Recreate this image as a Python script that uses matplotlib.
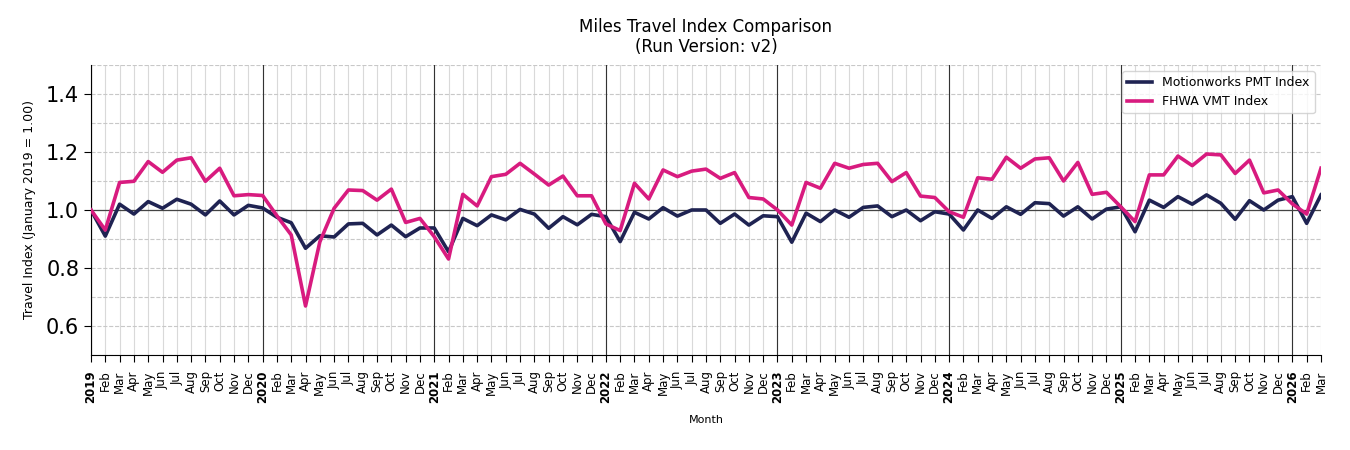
import matplotlib
matplotlib.use('Agg')
import matplotlib.pyplot as plt
import numpy as np
import pandas as pd

# Monthly index values, Jan 2019 .. Mar 2026
start_month = '2019-01'
n_months = 87

pmt_index = [1.000, 0.910, 1.020, 0.986, 1.029, 1.006, 1.037, 1.020, 0.983, 1.031, 0.983, 1.016,
             1.007, 0.975, 0.956, 0.868, 0.911, 0.907, 0.952, 0.954, 0.914, 0.948, 0.908, 0.938,
             0.938, 0.856, 0.971, 0.946, 0.983, 0.966, 1.002, 0.986, 0.937, 0.977, 0.949, 0.985,
             0.977, 0.891, 0.992, 0.969, 1.008, 0.979, 1.000, 1.000, 0.954, 0.986, 0.948, 0.980,
             0.977, 0.889, 0.989, 0.960, 1.000, 0.975, 1.009, 1.014, 0.977, 1.000, 0.963, 0.994,
             0.986, 0.931, 1.000, 0.971, 1.011, 0.985, 1.025, 1.022, 0.979, 1.011, 0.969, 1.003,
             1.011, 0.925, 1.034, 1.009, 1.046, 1.020, 1.052, 1.023, 0.968, 1.032, 1.000, 1.034,
             1.046, 0.954, 1.052]

vmt_index = [1.000, 0.931, 1.095, 1.099, 1.167, 1.130, 1.172, 1.180, 1.099, 1.144, 1.049, 1.053,
             1.050, 0.980, 0.914, 0.669, 0.890, 1.006, 1.069, 1.067, 1.034, 1.072, 0.957, 0.971,
             0.908, 0.831, 1.054, 1.014, 1.115, 1.123, 1.161, 1.124, 1.086, 1.117, 1.049, 1.049,
             0.952, 0.929, 1.092, 1.038, 1.138, 1.115, 1.134, 1.141, 1.109, 1.129, 1.043, 1.038,
             1.000, 0.948, 1.095, 1.075, 1.161, 1.144, 1.157, 1.161, 1.098, 1.129, 1.048, 1.043,
             0.994, 0.975, 1.111, 1.106, 1.182, 1.144, 1.176, 1.180, 1.100, 1.164, 1.054, 1.061,
             1.011, 0.960, 1.121, 1.121, 1.186, 1.153, 1.193, 1.190, 1.126, 1.172, 1.059, 1.069,
             1.021, 0.986, 1.144]

months = pd.period_range(start_month, periods=n_months, freq='M')
x = np.arange(n_months)
tick_labels = [str(m.year) if m.month == 1 else m.strftime('%b') for m in months]

fig = plt.figure(figsize=(13.5, 4.5), dpi=100)
ax = fig.add_axes([0.0674, 0.2111, 0.9111, 0.6445])

# grid
ax.set_xticks(x, minor=False)
ax.set_yticks([0.6, 0.8, 1.0, 1.2, 1.4])
ax.set_yticks(np.arange(0.5, 1.51, 0.1), minor=True)
ax.grid(axis='x', which='major', color='#d9d9d9', linewidth=0.8, linestyle='-')
ax.grid(axis='y', which='both', color='#c8c8c8', linewidth=0.8, linestyle='--')
ax.set_axisbelow(True)

for i, m in enumerate(months):
    if m.month == 1:
        ax.axvline(i, color='#333333', linewidth=0.8, zorder=1)
ax.axhline(1.0, color='#444444', linewidth=0.9, zorder=1)

ax.plot(x, pmt_index, color='#1f2352', linewidth=2.6, label='Motionworks PMT Index', zorder=3)
ax.plot(x, vmt_index, color='#d81b7f', linewidth=2.6, label='FHWA VMT Index', zorder=3)

ax.set_xlim(0, n_months - 1)
ax.set_ylim(0.5, 1.5)

ax.set_xticklabels(tick_labels, rotation=90, fontsize=8.5)
for lab, m in zip(ax.get_xticklabels(), months):
    if m.month == 1:
        lab.set_fontweight('bold')
ax.tick_params(axis='y', which='major', labelsize=15, length=5)
ax.tick_params(axis='y', which='minor', length=0)
ax.tick_params(axis='x', length=5, pad=6)

for s in ['top', 'right']:
    ax.spines[s].set_visible(False)

ax.set_xlabel('Month', fontsize=8, labelpad=9)
ax.set_ylabel('Travel Index (January 2019 = 1.00)', fontsize=9, labelpad=7)
ax.set_title('Miles Travel Index Comparison\n(Run Version: v2)', fontsize=12, pad=9)
ax.legend(loc='upper right', fontsize=9)

fig.savefig('out.png', dpi=100)
